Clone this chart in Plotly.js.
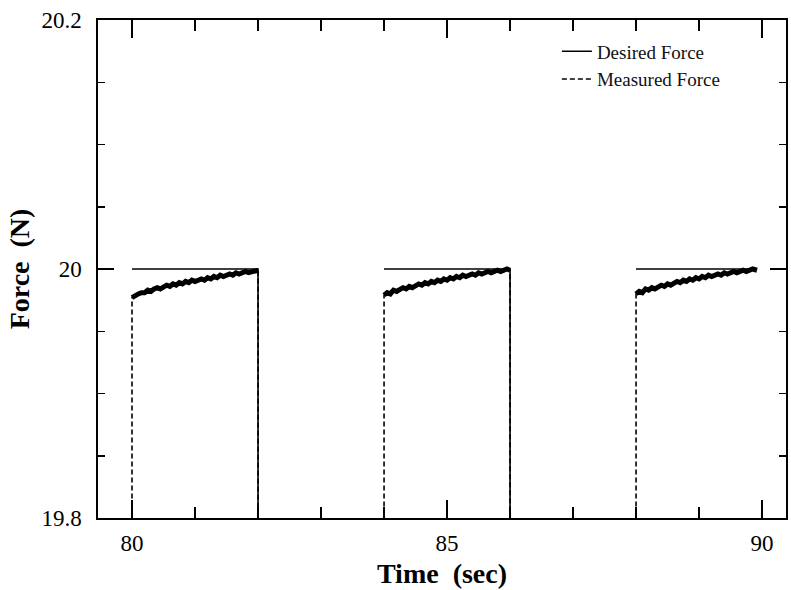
<!DOCTYPE html>
<html>
<head>
<meta charset="utf-8">
<script src="https://cdn.plot.ly/plotly-3.0.1.min.js"></script>
<style>html,body{margin:0;padding:0;background:#fff;}#chart{width:791px;height:590px;}</style>
</head>
<body>
<div id="chart"></div>
<script>
// Desired force: square pulses at 20 N (null separates segments)
const desiredTime  = [80, 82, 82, null, 84, 86, 86, null, 88, 89.92];
const desiredForce = [20, 20, 19.7, null, 20, 20, 19.7, null, 20, 20];

// Measured force per pulse, sampled every 0.05 s
const pulse1Time = [80.00,80.05,80.10,80.15,80.20,80.25,80.30,80.35,80.40,80.45,80.50,80.55,80.60,80.65,80.70,80.75,80.80,80.85,80.90,80.95,81.00,81.05,81.10,81.15,81.20,81.25,81.30,81.35,81.40,81.45,81.50,81.55,81.60,81.65,81.70,81.75,81.80,81.85,81.90,81.95,82.00];
const pulse1Force = [19.977,19.979,19.980,19.981,19.981,19.983,19.982,19.984,19.985,19.984,19.986,19.987,19.986,19.988,19.987,19.989,19.988,19.990,19.989,19.991,19.990,19.991,19.992,19.991,19.993,19.992,19.994,19.993,19.995,19.994,19.995,19.996,19.995,19.997,19.996,19.997,19.998,19.997,19.998,19.999,19.999];
const pulse2Time = [84.00,84.05,84.10,84.15,84.20,84.25,84.30,84.35,84.40,84.45,84.50,84.55,84.60,84.65,84.70,84.75,84.80,84.85,84.90,84.95,85.00,85.05,85.10,85.15,85.20,85.25,85.30,85.35,85.40,85.45,85.50,85.55,85.60,85.65,85.70,85.75,85.80,85.85,85.90,85.95,86.00];
const pulse2Force = [19.979,19.981,19.980,19.983,19.982,19.984,19.985,19.984,19.986,19.985,19.987,19.988,19.987,19.989,19.988,19.990,19.989,19.991,19.990,19.992,19.991,19.993,19.992,19.994,19.993,19.995,19.994,19.995,19.996,19.995,19.997,19.996,19.997,19.998,19.997,19.998,19.999,19.998,19.999,20.000,19.999];
const pulse3Time = [88.00,88.05,88.10,88.15,88.20,88.25,88.30,88.35,88.40,88.45,88.50,88.55,88.60,88.65,88.70,88.75,88.80,88.85,88.90,88.95,89.00,89.05,89.10,89.15,89.20,89.25,89.30,89.35,89.40,89.45,89.50,89.55,89.60,89.65,89.70,89.75,89.80,89.85,89.92];
const pulse3Force = [19.980,19.982,19.981,19.984,19.983,19.985,19.984,19.986,19.987,19.986,19.988,19.987,19.989,19.990,19.989,19.991,19.990,19.992,19.991,19.993,19.992,19.994,19.993,19.995,19.994,19.995,19.996,19.995,19.997,19.996,19.997,19.998,19.997,19.998,19.999,19.998,19.999,20.000,19.999];
const lowLevel = 19.7; // measured force before each pulse (below plotted range)

const xTickLabels = ['80', '85', '90'];
const yTickLabels = ['19.8', '20', '20.2'];

// Build the measured series: rise from low level, pulse curve, drop at end (except last)
const pulses = [[pulse1Time, pulse1Force, true], [pulse2Time, pulse2Force, true], [pulse3Time, pulse3Force, false]];
const measT = [], measF = [], bandT = [], bandF = [];
pulses.forEach(([t, f, drop]) => {
  measT.push(t[0]); measF.push(lowLevel);
  t.forEach((v, k) => { measT.push(v); measF.push(f[k]); bandT.push(v); bandF.push(f[k]); });
  if (drop) { measT.push(t[t.length - 1]); measF.push(lowLevel); }
  measT.push(null); measF.push(null);
  bandT.push(null); bandF.push(null);
});

const serif = 'Liberation Serif, Times New Roman, serif';

const traces = [
  {x: desiredTime, y: desiredForce, mode: 'lines', name: 'Desired Force',
   line: {color: '#000', width: 1.6}, connectgaps: false},
  {x: measT, y: measF, mode: 'lines', name: 'Measured Force',
   line: {color: '#000', width: 1.6, dash: '5px,3px'}, connectgaps: false},
  {x: bandT, y: bandF, mode: 'lines', name: 'Measured Force', showlegend: false,
   line: {color: '#000', width: 5}, connectgaps: false}
];

const layout = {
  width: 791, height: 590,
  margin: {l: 98, r: 5, t: 20, b: 72},
  paper_bgcolor: '#fff', plot_bgcolor: '#fff',
  font: {family: serif, color: '#000'},
  showlegend: true,
  legend: {x: 0.667, y: 0.975, xanchor: 'left', yanchor: 'top',
           bgcolor: 'rgba(0,0,0,0)', font: {family: serif, size: 19, color: '#111'},
           tracegroupgap: 0},
  xaxis: {
    range: [79.46, 90.38], tickmode: 'array', tickvals: xTickLabels.map(Number), ticktext: xTickLabels,
    ticks: 'inside', ticklen: 18, tickwidth: 1.5, tickcolor: '#000',
    minor: {ticks: 'inside', dtick: 1, tick0: 80, ticklen: 11, tickwidth: 1.5, tickcolor: '#000', showgrid: false},
    showline: true, linecolor: '#000', linewidth: 1.6, mirror: 'ticks',
    showgrid: false, zeroline: false,
    tickfont: {family: serif, size: 23, color: '#000'},
    ticklabelstandoff: 4,
    title: {text: '<b>Time&nbsp;&nbsp;(sec)</b>', font: {family: serif, size: 28, color: '#000'}, standoff: 8}
  },
  yaxis: {
    range: [19.8, 20.2], tickmode: 'array', tickvals: yTickLabels.map(Number), ticktext: yTickLabels,
    ticks: 'inside', ticklen: 16, tickwidth: 1.5, tickcolor: '#000',
    minor: {ticks: 'inside', dtick: 0.05, tick0: 19.8, ticklen: 7, tickwidth: 1.5, tickcolor: '#000', showgrid: false},
    showline: true, linecolor: '#000', linewidth: 1.6, mirror: 'ticks',
    showgrid: false, zeroline: false,
    tickfont: {family: serif, size: 23, color: '#000'},
    ticklabelstandoff: 10,
    title: {text: '<b>Force&nbsp;&nbsp;(N)</b>', font: {family: serif, size: 28, color: '#000'}, standoff: 4}
  }
};

Plotly.newPlot('chart', traces, layout, {displayModeBar: false, staticPlot: true});
</script>
</body>
</html>
